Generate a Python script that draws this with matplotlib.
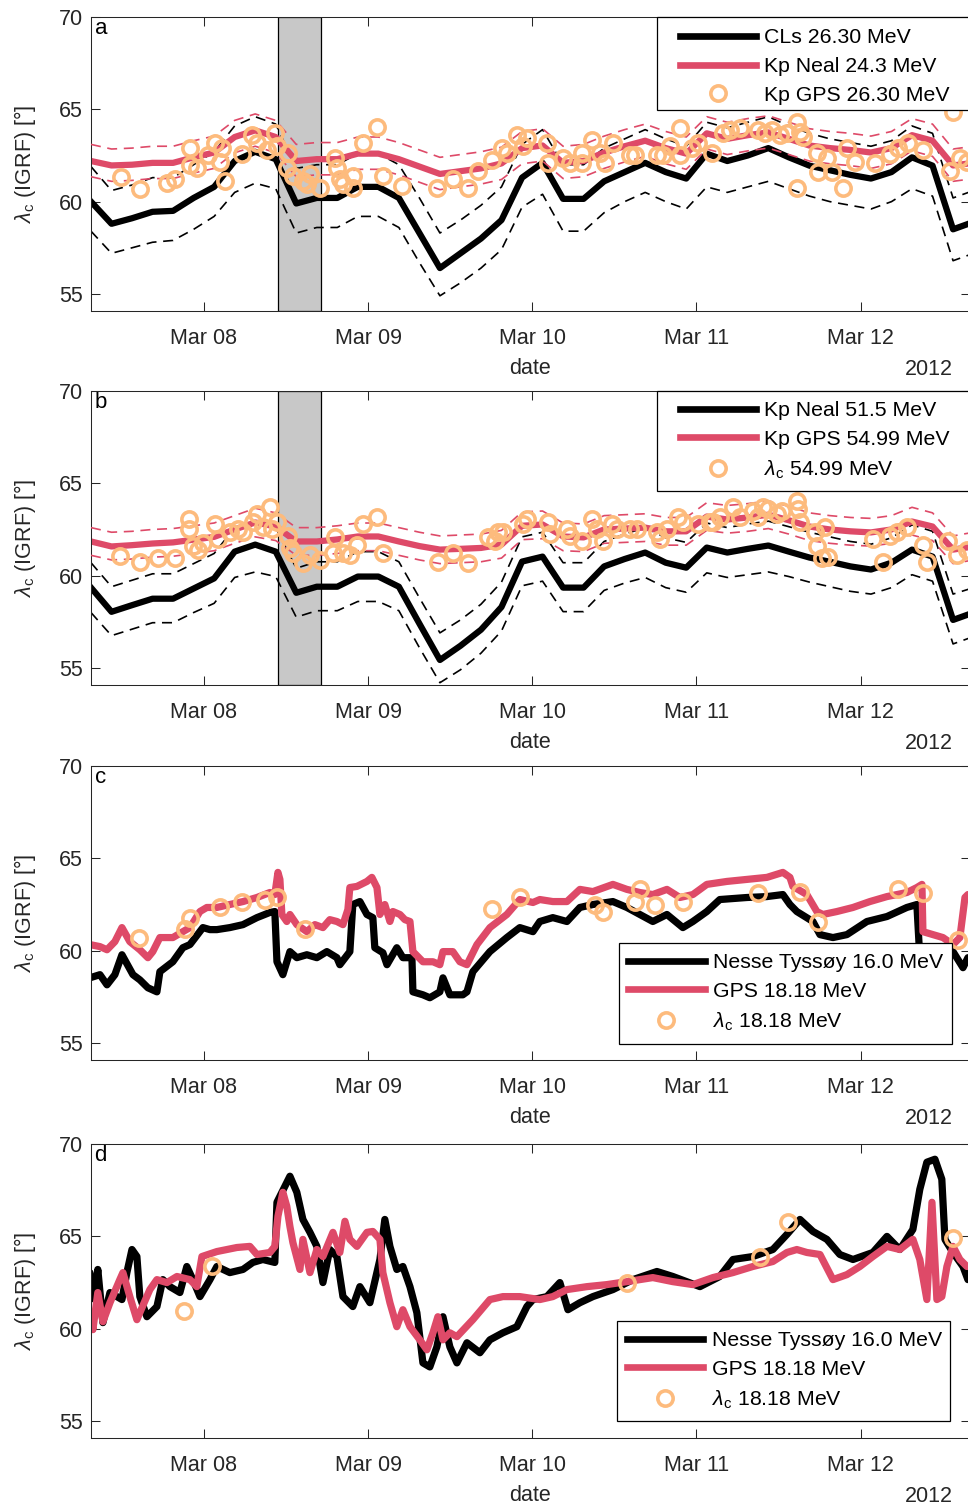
import numpy as np
import pandas as pd
import matplotlib
matplotlib.use("Agg")
import matplotlib.pyplot as plt
import matplotlib.dates as mdates
from matplotlib.lines import Line2D
from matplotlib.patches import Rectangle

plt.rcParams["font.family"] = ["Liberation Sans", "DejaVu Sans"]
plt.rcParams["mathtext.fontset"] = "custom"
plt.rcParams["mathtext.rm"] = "Liberation Sans"
plt.rcParams["mathtext.it"] = "Liberation Sans:italic"

RED = "#DE4A68"
ORANGE = "#FDBB7D"
AXCOL = "#262626"
FS = 15.5

# 3-hourly Kp based cut-offs (panels a, b)
kp_times = pd.date_range("2012-03-07 07:30", periods=44, freq="3h")

a_cls = [60.0, 58.8, 59.1, 59.45, 59.5, 60.2, 60.8, 62.2, 62.7, 62.3, 59.9, 60.2, 60.2, 60.8, 60.8,
         60.2, 58.3, 56.4, 57.2, 58.0, 59.0, 61.3, 62.1, 60.15, 60.15, 61.1, 61.6, 62.1, 61.6, 61.25,
         62.6, 62.2, 62.5, 62.9, 62.4, 61.95, 61.7, 61.45, 61.25, 61.6, 62.4, 61.95, 58.5, 58.9]
a_cls_hi = [61.9, 60.6, 60.9, 61.3, 61.3, 62.0, 62.7, 64.1, 64.6, 64.2, 61.8, 62.0, 62.0, 62.6, 62.6,
            62.0, 60.2, 58.3, 59.0, 59.8, 60.8, 63.1, 63.9, 62.0, 62.0, 62.9, 63.4, 63.9, 63.4, 63.0,
            64.3, 64.0, 64.3, 64.6, 64.1, 63.7, 63.4, 63.2, 63.0, 63.3, 64.1, 63.7, 60.2, 60.6]
a_cls_lo = [58.4, 57.2, 57.5, 57.8, 57.9, 58.5, 59.2, 60.5, 61.0, 60.7, 58.3, 58.6, 58.6, 59.2, 59.2,
            58.6, 56.7, 54.9, 55.6, 56.4, 57.4, 59.7, 60.4, 58.4, 58.4, 59.4, 60.0, 60.5, 60.0, 59.6,
            60.8, 60.5, 60.8, 61.1, 60.7, 60.3, 60.0, 59.8, 59.6, 60.0, 60.7, 60.3, 56.8, 57.2]
a_neal = [62.2, 61.96, 62.0, 62.1, 62.1, 62.4, 62.66, 63.5, 63.86, 63.5, 62.2, 62.3, 62.3, 62.6, 62.6,
          62.3, 61.9, 61.5, 61.65, 61.8, 62.07, 62.9, 63.04, 62.1, 62.2, 62.66, 63.0, 63.3, 62.9, 62.6,
          63.7, 63.4, 63.6, 63.75, 63.4, 63.04, 62.9, 62.8, 62.66, 62.9, 63.6, 63.3, 61.96, 62.1]
a_neal_hi = [63.1, 62.85, 62.9, 63.0, 63.0, 63.3, 63.55, 64.4, 64.75, 64.4, 63.1, 63.2, 63.2, 63.5, 63.5,
             63.2, 62.8, 62.4, 62.55, 62.7, 62.95, 63.8, 63.95, 63.0, 63.1, 63.55, 63.9, 64.2, 63.8, 63.5,
             64.6, 64.3, 64.5, 64.65, 64.3, 63.95, 63.8, 63.7, 63.55, 63.8, 64.5, 64.2, 62.85, 63.0]
a_neal_lo = [61.35, 61.1, 61.15, 61.25, 61.25, 61.55, 61.8, 62.65, 63.0, 62.65, 61.35, 61.45, 61.45, 61.75, 61.75,
             61.45, 61.05, 60.65, 60.8, 60.95, 61.2, 62.05, 62.2, 61.25, 61.35, 61.8, 62.15, 62.45, 62.05, 61.75,
             62.85, 62.55, 62.75, 62.9, 62.55, 62.2, 62.05, 61.95, 61.8, 62.05, 62.75, 62.45, 61.1, 61.25]
a_gps_day = [7.495, 7.61, 7.775, 7.823, 7.915, 7.915, 7.957, 8.024, 8.067, 8.11, 8.097, 8.128, 8.231, 8.292,
             8.323, 8.384, 8.432, 8.445, 8.512, 8.505, 8.542, 8.603, 8.646, 8.627, 8.706, 8.798, 8.81, 8.828,
             8.847, 8.907, 8.907, 8.968, 9.054, 9.09, 9.206, 9.419, 9.516, 9.608, 9.669, 9.754, 9.815, 9.845,
             9.906, 9.943, 9.967, 10.089, 10.095, 10.186, 10.229, 10.302, 10.302, 10.363, 10.412, 10.442,
             10.491, 10.594, 10.625, 10.759, 10.795, 10.838, 10.899, 10.899, 10.972, 11.009, 11.094, 11.161,
             11.203, 11.264, 11.374, 11.417, 11.459, 11.508, 11.551, 11.611, 11.63, 11.648, 11.611, 11.733,
             11.739, 11.794, 11.825, 11.892, 11.916, 11.965, 12.087, 12.178, 12.227, 12.287, 12.379, 12.543,
             12.562, 12.604, 12.647]
a_gps_val = [61.36, 60.71, 61.03, 61.2, 62.93, 61.96, 61.8, 62.5, 63.15, 62.93, 62.12, 61.14, 62.6, 63.59,
             63.2, 62.77, 63.7, 63.04, 62.66, 61.8, 61.41, 61.14, 61.52, 60.98, 60.76, 62.34, 61.8, 61.25,
             60.98, 61.41, 60.76, 63.15, 64.02, 61.41, 60.87, 60.76, 61.25, 60.76, 61.68, 62.23, 62.93, 62.66,
             63.59, 63.04, 63.42, 63.2, 62.07, 62.34, 62.07, 62.66, 62.07, 63.32, 62.66, 62.07,
             63.15, 62.5, 62.5, 62.5, 62.5, 63.04, 63.97, 62.5, 62.88, 63.2, 62.66, 63.7,
             63.86, 63.97, 63.86, 63.7, 63.86, 63.59, 63.7, 64.29, 63.75, 63.48, 60.76, 62.66,
             61.58, 62.34, 61.58, 60.76, 62.93, 62.12, 62.07, 62.6, 62.88, 63.2, 62.77, 61.68,
             64.84, 62.34, 62.12]

b_neal = [59.35, 58.04, 58.4, 58.75, 58.75, 59.3, 59.85, 61.3, 61.68, 61.3, 59.07, 59.4, 59.4, 59.95, 59.95,
          59.4, 57.4, 55.43, 56.2, 57.07, 58.3, 60.76, 61.03, 59.35, 59.35, 60.5, 60.9, 61.25, 60.7, 60.43,
          61.52, 61.25, 61.45, 61.63, 61.3, 60.98, 60.75, 60.5, 60.33, 60.7, 61.41, 61.03, 57.6, 58.0]
b_neal_hi = [60.7, 59.4, 59.75, 60.1, 60.1, 60.65, 61.2, 62.6, 62.95, 62.6, 60.4, 60.75, 60.75, 61.3, 61.3,
             60.75, 58.8, 56.9, 57.6, 58.45, 59.65, 62.1, 62.35, 60.7, 60.7, 61.85, 62.25, 62.6, 62.05, 61.8,
             62.85, 62.6, 62.8, 62.95, 62.65, 62.35, 62.1, 61.85, 61.7, 62.05, 62.75, 62.4, 59.0, 59.35]
b_neal_lo = [58.0, 56.75, 57.1, 57.45, 57.45, 58.0, 58.5, 59.9, 60.2, 59.95, 57.75, 58.1, 58.1, 58.6, 58.6,
             58.1, 56.1, 54.2, 54.9, 55.8, 57.0, 59.45, 59.7, 58.05, 58.05, 59.2, 59.6, 59.9, 59.35, 59.1,
             60.15, 59.9, 60.05, 60.2, 59.95, 59.65, 59.4, 59.15, 59.0, 59.35, 60.05, 59.7, 56.3, 56.7]
b_gps = [61.85, 61.58, 61.65, 61.74, 61.8, 61.95, 62.1, 62.5, 62.88, 62.66, 61.85, 61.85, 61.96, 62.12, 62.12,
         61.85, 61.6, 61.41, 61.45, 61.5, 61.68, 62.7, 62.77, 62.12, 62.07, 62.5, 62.55, 62.6, 62.4, 62.4,
         63.2, 63.04, 63.15, 63.3, 63.0, 62.66, 62.5, 62.4, 62.34, 62.5, 62.93, 62.66, 61.41, 61.58]
b_gps_hi = [62.6, 62.35, 62.4, 62.5, 62.55, 62.7, 62.85, 63.25, 63.65, 63.4, 62.6, 62.6, 62.7, 62.85, 62.85,
            62.6, 62.35, 62.15, 62.2, 62.25, 62.45, 63.45, 63.5, 62.85, 62.8, 63.25, 63.3, 63.35, 63.15, 63.15,
            63.95, 63.8, 63.9, 64.05, 63.75, 63.4, 63.25, 63.15, 63.1, 63.25, 63.7, 63.4, 62.15, 62.35]
b_gps_lo = [61.1, 60.85, 60.9, 61.0, 61.05, 61.2, 61.35, 61.75, 62.1, 61.9, 61.1, 61.1, 61.2, 61.35, 61.35,
            61.1, 60.85, 60.65, 60.7, 60.75, 60.95, 61.95, 62.0, 61.35, 61.3, 61.75, 61.8, 61.85, 61.65, 61.65,
            62.45, 62.3, 62.4, 62.55, 62.25, 61.9, 61.75, 61.65, 61.6, 61.75, 62.2, 61.9, 60.65, 60.85]
b_lam_day = [7.488, 7.61, 7.72, 7.823, 7.909, 7.909, 7.933, 7.963, 7.994, 8.067, 8.085, 8.158, 8.207, 8.238,
             8.298, 8.323, 8.359, 8.402, 8.414, 8.445, 8.512, 8.524, 8.542, 8.603, 8.646, 8.706, 8.798, 8.786,
             8.847, 8.889, 8.932, 8.968, 9.054, 9.09, 9.425, 9.516, 9.608, 9.73, 9.772, 9.79, 9.821, 9.943,
             9.967, 10.095, 10.107, 10.211, 10.229, 10.302, 10.363, 10.393, 10.43, 10.485, 10.515, 10.594,
             10.637, 10.759, 10.777, 10.82, 10.887, 10.917, 11.009, 11.082, 11.1, 11.142, 11.222, 11.264,
             11.343, 11.374, 11.404, 11.435, 11.49, 11.52, 11.611, 11.618, 11.63, 11.721, 11.782, 11.733,
             11.764, 11.8, 12.074, 12.135, 12.178, 12.22, 12.281, 12.379, 12.403, 12.531, 12.586, 12.647]
b_lam_val = [61.09, 60.76, 60.98, 60.98, 63.04, 62.5, 61.58, 61.41, 61.79, 62.77, 61.96, 62.34, 62.5, 62.34,
             62.93, 63.32, 62.66, 63.7, 62.5, 62.93, 62.12, 61.52, 61.25, 60.71, 61.14, 60.87, 62.07, 61.25,
             61.25, 61.14, 61.68, 62.77, 63.15, 61.25, 60.76, 61.25, 60.71, 62.07, 61.85, 62.39, 62.34, 62.77,
             63.04, 62.93, 62.23, 62.5, 62.12, 61.85, 63.04, 62.5, 61.85, 62.77, 62.5, 62.5,
             62.5, 62.34, 61.96, 62.5, 63.2, 62.93, 62.77, 62.88, 62.88, 63.15, 63.7, 63.2,
             63.48, 63.2, 63.7, 63.59, 63.32, 63.48, 64.02, 63.59, 62.93, 62.39, 62.66, 61.58,
             60.98, 61.03, 61.96, 60.76, 62.12, 62.39, 62.66, 61.68, 60.76, 61.85, 61.14, 61.41]

# riometer / GPS high-resolution cut-offs (panels c, d), times as day of March
c_nt_day = [7.306, 7.367, 7.41, 7.458, 7.501, 7.568, 7.61, 7.659, 7.714, 7.732, 7.811, 7.872, 7.915, 7.994,
            8.037, 8.079, 8.158, 8.238, 8.323, 8.402, 8.432, 8.445, 8.481, 8.524, 8.566, 8.627, 8.688, 8.749,
            8.81, 8.828, 8.889, 8.907, 8.95, 8.993, 9.029, 9.041, 9.09, 9.115, 9.175, 9.212, 9.267, 9.273,
            9.334, 9.376, 9.437, 9.456, 9.498, 9.577, 9.602, 9.638, 9.742, 9.845, 9.924, 10.004, 10.046,
            10.125, 10.211, 10.29, 10.369, 10.491, 10.576, 10.655, 10.734, 10.82, 10.917, 10.978, 11.063,
            11.142, 11.307, 11.429, 11.526, 11.569, 11.611, 11.709, 11.752, 11.831, 11.916, 12.038, 12.16,
            12.281, 12.342, 12.36, 12.464, 12.562, 12.623, 12.653]
c_nt_val = [58.53, 58.7, 58.15, 58.7, 59.78, 58.7, 58.42, 57.99, 57.77, 58.86, 59.4, 60.16, 60.33, 61.25,
            61.14, 61.14, 61.25, 61.41, 61.79, 62.07, 62.12, 59.4, 58.7, 59.95, 59.62, 59.78, 59.62, 59.95,
            59.62, 59.24, 59.95, 62.5, 62.66, 61.96, 61.79, 60.16, 59.89, 59.24, 60.16, 59.62, 59.62, 57.77,
            57.61, 57.45, 57.77, 58.53, 57.61, 57.61, 57.77, 58.86, 59.95, 60.71, 61.25, 61.03, 61.58,
            61.79, 61.58, 62.34, 62.5, 62.66, 62.34, 61.96, 61.58, 61.96, 61.25, 61.58, 62.12,
            62.77, 62.88, 62.93, 63.04, 62.5, 62.12, 61.58, 60.87, 60.71, 60.87, 61.58, 61.85,
            62.34, 62.5, 59.62, 59.78, 59.95, 59.08, 59.62]
c_gps_day = [7.306, 7.367, 7.41, 7.458, 7.501, 7.549, 7.61, 7.659, 7.689, 7.732, 7.811, 7.872, 7.915, 7.976,
             8.018, 8.079, 8.158, 8.238, 8.323, 8.402, 8.432, 8.451, 8.463, 8.475, 8.505, 8.524, 8.566, 8.627,
             8.676, 8.725, 8.767, 8.81, 8.847, 8.877, 8.889, 8.932, 8.993, 9.023, 9.054, 9.072, 9.102, 9.133,
             9.151, 9.194, 9.224, 9.255, 9.273, 9.334, 9.395, 9.437, 9.456, 9.516, 9.559, 9.602, 9.663, 9.742,
             9.845, 9.924, 10.004, 10.046, 10.125, 10.211, 10.29, 10.369, 10.491, 10.576, 10.655, 10.734,
             10.82, 10.899, 10.978, 11.063, 11.185, 11.307, 11.429, 11.526, 11.569, 11.587, 11.672, 11.733,
             11.77, 11.855, 11.953, 12.056, 12.16, 12.281, 12.342, 12.373, 12.379, 12.44, 12.501, 12.562,
             12.604, 12.635, 12.653]
c_gps_val = [60.33, 60.22, 60.05, 60.49, 61.25, 60.49, 60.05, 59.62, 59.95, 60.71, 60.71, 61.03, 61.25, 62.12,
             62.34, 62.34, 62.5, 62.66, 62.88, 63.15, 63.04, 64.24, 63.86, 61.96, 61.58, 61.96, 61.41, 61.03,
             61.41, 61.25, 61.68, 61.58, 61.41, 62.23, 63.42, 63.48, 63.75, 63.97, 63.42, 61.96, 62.5, 61.58,
             62.12, 61.96, 61.68, 61.58, 59.95, 59.4, 59.4, 59.24, 59.95, 59.95, 59.4, 59.24, 60.33, 61.25,
             61.96, 62.77, 62.61, 62.77, 62.66, 62.66, 63.32, 63.2, 63.59, 63.32, 63.15, 63.04,
             63.32, 62.88, 63.04, 63.59, 63.75, 63.86, 63.97, 64.24, 63.97, 63.48, 63.04, 62.12,
             61.96, 62.12, 62.34, 62.66, 62.93, 63.15, 63.42, 63.59, 61.03, 60.87, 60.71, 60.33,
             60.71, 62.88, 63.04]
c_lam_day = [7.604, 7.884, 7.915, 8.097, 8.231, 8.371, 8.445, 8.615, 9.754, 9.924, 10.381, 10.43, 10.625,
             10.655, 10.747, 10.917, 11.374, 11.63, 11.739, 12.227, 12.379, 12.592]
c_lam_val = [60.71, 61.2, 61.79, 62.39, 62.66, 62.77, 62.88, 61.2, 62.28, 62.88, 62.5, 62.07, 62.61,
             63.32, 62.5, 62.61, 63.15, 63.2, 61.58, 63.32, 63.15, 60.6]

d_nt_day = [7.306, 7.336, 7.354, 7.385, 7.428, 7.501, 7.531, 7.562, 7.592, 7.61, 7.653, 7.714, 7.75, 7.793,
            7.854, 7.896, 7.933, 7.976, 8.037, 8.079, 8.158, 8.238, 8.298, 8.359, 8.432, 8.445, 8.524, 8.566,
            8.603, 8.646, 8.688, 8.725, 8.767, 8.81, 8.847, 8.907, 8.95, 9.011, 9.072, 9.102, 9.133, 9.175,
            9.212, 9.255, 9.297, 9.334, 9.376, 9.419, 9.456, 9.498, 9.541, 9.602, 9.681, 9.742, 9.821, 9.906,
            9.967, 10.004, 10.089, 10.168, 10.217, 10.29, 10.369, 10.491, 10.613, 10.759, 10.856, 11.021,
            11.142, 11.222, 11.343, 11.465, 11.551, 11.63, 11.709, 11.794, 11.873, 11.953, 12.074, 12.16,
            12.238, 12.318, 12.36, 12.403, 12.452, 12.494, 12.513, 12.562, 12.623, 12.653]
d_nt_val = [63.04, 61.58, 63.21, 60.33, 61.96, 61.58, 63.04, 64.29, 63.91, 61.74, 60.65, 61.2, 62.66, 62.28,
            61.96, 63.37, 62.66, 61.74, 62.66, 63.37, 63.04, 63.21, 63.59, 63.75, 63.59, 66.85, 68.26, 67.39,
            65.92, 65.22, 64.46, 62.5, 64.29, 63.91, 61.74, 61.2, 62.28, 61.41, 63.75, 65.92, 64.46, 63.21,
            63.37, 62.28, 60.87, 58.15, 57.93, 59.02, 60.65, 59.02, 58.15, 59.24, 58.7, 59.4, 59.78, 60.11,
            61.2, 61.58, 61.74, 62.5, 61.03, 61.41, 61.74, 62.12, 62.66, 63.1, 62.83, 62.28,
            62.83, 63.75, 63.91, 64.29, 65.11, 65.92, 65.27, 64.84, 64.02, 63.75, 64.13, 65.0,
            64.29, 65.38, 67.55, 69.02, 69.18, 68.1, 64.84, 64.13, 63.37, 62.66]
d_gps_day = [7.306, 7.324, 7.354, 7.385, 7.428, 7.488, 7.507, 7.549, 7.592, 7.61, 7.671, 7.714, 7.775, 7.836,
             7.915, 7.957, 7.988, 8.079, 8.201, 8.28, 8.323, 8.402, 8.432, 8.451, 8.481, 8.505, 8.524, 8.542,
             8.585, 8.603, 8.646, 8.688, 8.725, 8.786, 8.828, 8.859, 8.889, 8.932, 8.993, 9.029, 9.072, 9.09,
             9.133, 9.175, 9.212, 9.255, 9.315, 9.358, 9.395, 9.425, 9.456, 9.498, 9.541, 9.638, 9.742, 9.821,
             9.924, 10.046, 10.125, 10.211, 10.333, 10.454, 10.576, 10.734, 10.856, 10.978, 11.1, 11.222,
             11.343, 11.465, 11.551, 11.611, 11.672, 11.752, 11.831, 11.916, 11.995, 12.074, 12.16, 12.238,
             12.318, 12.36, 12.403, 12.434, 12.464, 12.494, 12.525, 12.562, 12.604, 12.647]
d_gps_val = [60.87, 59.95, 61.96, 60.38, 61.41, 62.66, 63.04, 61.74, 60.49, 60.87, 62.12, 62.66, 62.5, 62.83,
             62.66, 62.28, 63.91, 64.18, 64.4, 64.46, 64.02, 64.13, 64.46, 66.09, 67.39, 66.63, 65.54, 64.67,
             63.21, 64.84, 63.04, 64.29, 63.91, 65.22, 64.13, 65.82, 64.84, 64.46, 65.22, 65.27, 64.84, 63.04,
             61.41, 60.11, 61.03, 60.11, 59.4, 58.86, 59.78, 60.65, 59.4, 59.78, 59.57, 60.49, 61.58, 61.74,
             61.74, 61.58, 61.74, 62.12, 62.28, 62.39, 62.55, 62.77, 62.55, 62.39, 62.77, 63.04,
             63.37, 63.64, 64.13, 64.29, 64.13, 64.02, 62.66, 62.93, 63.37, 63.91, 64.46, 64.29,
             64.84, 63.75, 61.58, 66.85, 61.58, 61.74, 63.37, 64.46, 63.75, 63.37]
d_lam_day = [7.878, 8.049, 10.576, 11.386, 11.557, 12.562]
d_lam_val = [60.98, 63.42, 62.5, 63.91, 65.76, 64.89]

shade_start = pd.Timestamp("2012-03-08 10:50")
shade_end = pd.Timestamp("2012-03-08 17:05")

x_lo = pd.Timestamp("2012-03-07 07:30")
x_hi = pd.Timestamp("2012-03-12 15:58")
y_ticks = [55, 60, 65, 70]


def to_dt(days):
    return pd.Timestamp("2012-03-01") + pd.to_timedelta(np.asarray(days, dtype=float) - 1, unit="D")


def style_axes(ax, letter):
    ax.set_xlim(x_lo, x_hi)
    ax.set_ylim(54.08, 70)
    ax.set_yticks(y_ticks)
    ax.xaxis.set_major_locator(mdates.DayLocator())
    ax.xaxis.set_major_formatter(mdates.DateFormatter("%b %d"))
    ax.tick_params(direction="in", length=6.5, width=0.75, top=True, right=True,
                   labelsize=FS, colors=AXCOL)
    ax.tick_params(axis="x", pad=12)
    ax.tick_params(axis="y", pad=6)
    for sp in ax.spines.values():
        sp.set_color(AXCOL)
        sp.set_linewidth(0.75)
    ax.set_xlabel("date", fontsize=FS, color=AXCOL, labelpad=7)
    ax.set_ylabel(r"$\lambda_\mathrm{c}$ (IGRF) [°]", fontsize=FS, color=AXCOL, va="center")
    ax.yaxis.set_label_coords(-0.075, 0.5)
    ax.text(0.9807, -0.20, "2012", transform=ax.transAxes, ha="right", va="center",
            fontsize=FS, color=AXCOL)
    ax.text(0.004, 0.997, letter, transform=ax.transAxes, ha="left", va="top",
            fontsize=16, color="k")


def add_legend(ax, labels, frame, anchor):
    x0, y0, w, h = frame
    ax.add_patch(Rectangle((x0, y0), w, h, transform=ax.transAxes, facecolor="white",
                           edgecolor="k", lw=0.9, zorder=4.5, clip_on=False))
    handles = [Line2D([], [], color="k", lw=4.8),
               Line2D([], [], color=RED, lw=4.8),
               Line2D([], [], color=ORANGE, ls="none", marker="o", markersize=11,
                      markerfacecolor="none", markeredgewidth=2.6)]
    leg = ax.legend(handles, labels, loc="upper left", bbox_to_anchor=anchor, frameon=False,
                    borderpad=0, borderaxespad=0, handlelength=3.6, handletextpad=0.38,
                    labelspacing=0.46, fontsize=15.3, numpoints=1)
    leg.set_zorder(5)


def kp_panel(ax, solid1, hi1, lo1, solid2, hi2, lo2, circ_day, circ_val):
    ax.axvspan(shade_start, shade_end, facecolor="#C8C8C8", edgecolor="k", lw=0.9, zorder=0.5)
    ax.plot(kp_times, solid1, color="k", lw=4.5, zorder=2)
    ax.plot(kp_times, hi1, color="k", lw=1.2, ls=(0, (6, 4)), zorder=2.2)
    ax.plot(kp_times, lo1, color="k", lw=1.2, ls=(0, (6, 4)), zorder=2.2)
    ax.plot(kp_times, solid2, color=RED, lw=4.5, zorder=2.5)
    ax.plot(kp_times, hi2, color=RED, lw=1.2, ls=(0, (6, 4)), zorder=2.6)
    ax.plot(kp_times, lo2, color=RED, lw=1.2, ls=(0, (6, 4)), zorder=2.6)
    ax.plot(to_dt(circ_day), circ_val, ls="none", marker="o", markersize=11,
            markerfacecolor="none", markeredgecolor=ORANGE, markeredgewidth=2.6, zorder=3)


def hires_panel(ax, nt_day, nt_val, gps_day, gps_val, lam_day, lam_val):
    ax.plot(to_dt(nt_day), nt_val, color="k", lw=5.2, solid_joinstyle="round",
            solid_capstyle="round", zorder=2)
    ax.plot(to_dt(gps_day), gps_val, color=RED, lw=5.2, solid_joinstyle="round",
            solid_capstyle="round", zorder=2.5)
    ax.plot(to_dt(lam_day), lam_val, ls="none", marker="o", markersize=11,
            markerfacecolor="none", markeredgecolor=ORANGE, markeredgewidth=2.6, zorder=3)


fig = plt.figure(figsize=(9.68, 15.05), dpi=100)
bottoms = [0.7934, 0.5449, 0.2957, 0.0445]
axes = [fig.add_axes([0.094, b, 0.908, 0.1953]) for b in bottoms]

kp_panel(axes[0], a_cls, a_cls_hi, a_cls_lo, a_neal, a_neal_hi, a_neal_lo, a_gps_day, a_gps_val)
add_legend(axes[0], ["CLs 26.30 MeV", "Kp Neal 24.3 MeV", "Kp GPS 26.30 MeV"],
           (0.6439, 0.6837, 0.4, 0.3163), (0.670, 0.962))

kp_panel(axes[1], b_neal, b_neal_hi, b_neal_lo, b_gps, b_gps_hi, b_gps_lo, b_lam_day, b_lam_val)
add_legend(axes[1], ["Kp Neal 51.5 MeV", "Kp GPS 54.99 MeV", r"$\lambda_\mathrm{c}$ 54.99 MeV"],
           (0.6439, 0.66, 0.4, 0.34), (0.670, 0.966))

hires_panel(axes[2], c_nt_day, c_nt_val, c_gps_day, c_gps_val, c_lam_day, c_lam_val)
add_legend(axes[2], ["Nesse Tyssøy 16.0 MeV", "GPS 18.18 MeV", r"$\lambda_\mathrm{c}$ 18.18 MeV"],
           (0.6007, 0.0544, 0.3788, 0.3435), (0.611, 0.364))

hires_panel(axes[3], d_nt_day, d_nt_val, d_gps_day, d_gps_val, d_lam_day, d_lam_val)
add_legend(axes[3], ["Nesse Tyssøy 16.0 MeV", "GPS 18.18 MeV", r"$\lambda_\mathrm{c}$ 18.18 MeV"],
           (0.5984, 0.0578, 0.3788, 0.3402), (0.6098, 0.364))

for ax, letter in zip(axes, "abcd"):
    style_axes(ax, letter)

fig.savefig("out.png", dpi=100)
